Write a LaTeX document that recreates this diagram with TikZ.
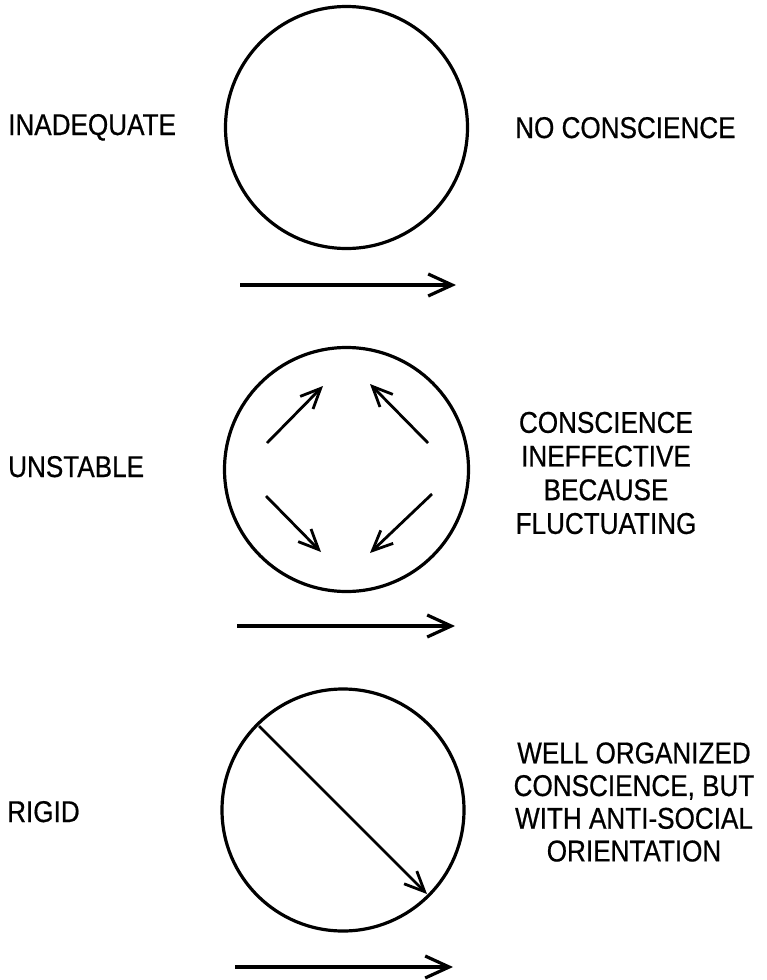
\documentclass[tikz,border=0pt]{standalone}
\usepackage{fontspec}
\setmainfont{Liberation Sans}[FakeStretch=0.87,FakeBold=0.6]
\usetikzlibrary{arrows.meta}
\begin{document}
\begin{tikzpicture}[x=1pt,y=-1pt,
  ring/.style={draw,line width=3.2pt,circle,inner sep=0pt},
  lbl/.style={font=\fontsize{30}{34}\selectfont,inner sep=0pt,align=center},
  bigarrow/.style={line width=3.4pt,-{Straight Barb[length=24pt,width=22pt,line width=3.2pt]}},
  smallarrow/.style={line width=2.8pt,-{Straight Barb[length=20pt,width=18pt,line width=2.8pt]}}]
\useasboundingbox (0,0) rectangle (766,980);
% circles
\node[ring,minimum size=242pt] (c1) at (346.5,127.5) {};
\node[ring,minimum size=244pt] (c2) at (346.5,469.5) {};
\node[ring,minimum size=242pt] (c3) at (343,810) {};
% bottom arrows
\coordinate (a1s) at (240,285); \coordinate (a1e) at (456,285);
\coordinate (a2s) at (237,626); \coordinate (a2e) at (455,626);
\coordinate (a3s) at (235,967); \coordinate (a3e) at (453,967);
\draw[bigarrow] (a1s) -- (a1e);
\draw[bigarrow] (a2s) -- (a2e);
\draw[bigarrow] (a3s) -- (a3e);
% inner arrows of unstable circle
\coordinate (ne1) at (267,443); \coordinate (ne2) at (323,386);
\coordinate (nw1) at (428,443); \coordinate (nw2) at (370,384);
\coordinate (se1) at (266,496); \coordinate (se2) at (321,552);
\coordinate (sw1) at (432,494); \coordinate (sw2) at (370,553);
\draw[smallarrow] (ne1) -- (ne2);
\draw[smallarrow] (nw1) -- (nw2);
\draw[smallarrow] (se1) -- (se2);
\draw[smallarrow] (sw1) -- (sw2);
% diagonal of rigid circle
\coordinate (d1) at (259,726); \coordinate (d2) at (427,894);
\draw[smallarrow] (d1) -- (d2);
% labels
\node[lbl,anchor=base west] (l1) at (8,135) {INADEQUATE};
\node[lbl,anchor=base west] (l2) at (8,477) {UNSTABLE};
\node[lbl,anchor=base west] (l3) at (7,822) {RIGID};
\node[lbl,anchor=base west] (r1) at (515,138) {NO CONSCIENCE};
\node[lbl,font=\fontsize{30}{33.7}\selectfont] (r2) at (606,473) {CONSCIENCE\\INEFFECTIVE\\BECAUSE\\FLUCTUATING};
\node[lbl,font=\fontsize{30}{32.7}\selectfont] (r3) at (634,802) {WELL ORGANIZED\\CONSCIENCE, BUT\\WITH ANTI-SOCIAL\\ORIENTATION};
\end{tikzpicture}
\end{document}
